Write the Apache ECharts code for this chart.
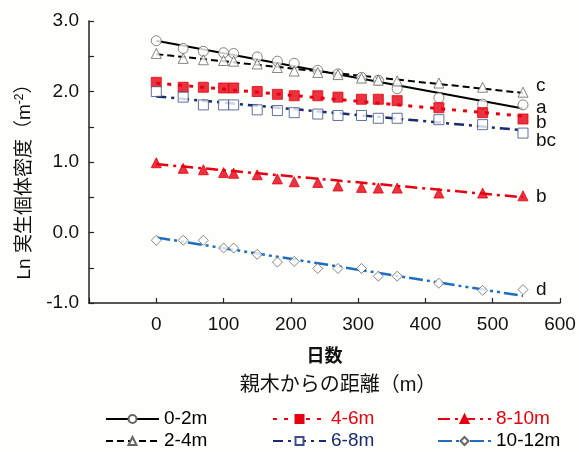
<!DOCTYPE html>
<html>
<head>
<meta charset="utf-8">
<script src="https://cdn.jsdelivr.net/npm/echarts@6/dist/echarts.min.js"></script>
<style>
  html, body { margin: 0; padding: 0; background: #fefefb; }
  #chart { width: 579px; height: 452px; }
</style>
</head>
<body>
<div id="chart"></div>
<script>
// 調査日（日数）
const days = [0, 40, 70, 100, 115, 150, 180, 205, 240, 270, 305, 330, 358, 420, 485, 545];

// 各距離クラスの Ln 実生個体密度
const d0_2 = [2.72, 2.61, 2.57, 2.55, 2.54, 2.49, 2.43, 2.40, 2.30, 2.25, 2.20, 2.16, 2.04, 1.91, 1.82, 1.81];
const d2_4 = [2.54, 2.47, 2.45, 2.44, 2.43, 2.39, 2.34, 2.29, 2.27, 2.24, 2.19, 2.16, 2.15, 2.12, 2.06, 1.99];
const d4_6 = [2.13, 2.06, 2.06, 2.05, 2.05, 2.00, 1.96, 1.94, 1.94, 1.92, 1.89, 1.89, 1.87, 1.77, 1.70, 1.61];
const d6_8 = [2.00, 1.92, 1.81, 1.81, 1.81, 1.74, 1.73, 1.70, 1.68, 1.66, 1.66, 1.62, 1.62, 1.60, 1.53, 1.41];
const d8_10 = [0.99, 0.91, 0.89, 0.85, 0.84, 0.82, 0.76, 0.72, 0.71, 0.66, 0.64, 0.63, 0.63, 0.56, 0.56, 0.52];
const d10_12 = [-0.11, -0.11, -0.11, -0.22, -0.22, -0.31, -0.42, -0.41, -0.51, -0.51, -0.51, -0.62, -0.62, -0.72, -0.82, -0.81];

// 回帰直線（始点・終点）
const fitX = [0, 545];
const fit0_2 = [2.72, 1.76];
const fit2_4 = [2.53, 1.98];
const fit4_6 = [2.12, 1.65];
const fit6_8 = [1.93, 1.45];
const fit8_10 = [0.97, 0.50];
const fit10_12 = [-0.07, -0.90];

// 多重比較の記号
const letters = ['a', 'c', 'b', 'bc', 'b', 'd'];
const names = ['0-2m', '2-4m', '4-6m', '6-8m', '8-10m', '10-12m'];

const xTicks = [0, 100, 200, 300, 400, 500, 600];

const RED = '#e60012';
const NAVY = '#1c2a6e';
const BLUE = '#1f6fc0';
const FONT = "'Liberation Sans', 'Noto Sans CJK JP', sans-serif";

const groups = [
  { vals: d0_2, fit: fit0_2, symbol: 'circle', fill: '#fff', border: '#666', line: '#000', type: 'solid', width: 2, dy: -1, text: '#000' },
  { vals: d2_4, fit: fit2_4, symbol: 'triangle', fill: '#fff', border: '#666', line: '#000', type: [7, 4], width: 2, dy: -7, text: '#000' },
  { vals: d4_6, fit: fit4_6, symbol: 'rect', fill: RED, border: RED, line: RED, type: [4, 7], width: 3, dy: 7, text: RED },
  { vals: d6_8, fit: fit6_8, symbol: 'rect', fill: '#fff', border: '#3c4f8a', line: NAVY, type: [10, 5, 3, 5], width: 2.5, dy: 10, text: NAVY },
  { vals: d8_10, fit: fit8_10, symbol: 'triangle', fill: RED, border: RED, line: RED, type: [12, 5, 3, 5], width: 2.5, dy: 0, text: RED },
  { vals: d10_12, fit: fit10_12, symbol: 'diamond', fill: '#fff', border: '#666', line: BLUE, type: [14, 4, 3, 4, 3, 4], width: 2.5, dy: -6, text: '#000' }
];

const series = [];
groups.forEach(function (g, i) {
  // 回帰直線
  series.push({
    name: names[i],
    type: 'line',
    data: fitX.map(function (x, k) { return [x, g.fit[k]]; }),
    symbol: g.symbol,
    showSymbol: false,
    symbolSize: 9,
    itemStyle: { color: g.fill, borderColor: g.border, borderWidth: 1 },
    lineStyle: { color: g.line, type: g.type, width: g.width },
    endLabel: {
      show: true,
      formatter: letters[i],
      distance: 13,
      offset: [0, g.dy],
      color: '#111',
      fontSize: 19,
      fontFamily: FONT
    },
    z: 2,
    silent: true
  });
  // 観測値
  series.push({
    name: 'p' + names[i],
    type: 'scatter',
    data: days.map(function (d, k) { return [d, g.vals[k]]; }),
    symbol: g.symbol,
    symbolSize: 10,
    itemStyle: { color: g.fill, borderColor: g.border, borderWidth: 1 },
    z: 3,
    silent: true
  });
});

function legendCol(left, a, b) {
  return {
    orient: 'vertical',
    left: left,
    top: 409,
    padding: 0,
    itemWidth: 53,
    itemHeight: 10,
    itemGap: 2,
    selectedMode: false,
    textStyle: { fontSize: 19, lineHeight: 20, fontFamily: FONT },
    data: [a, b].map(function (i) {
      return { name: names[i], textStyle: { color: groups[i].text } };
    })
  };
}

const chart = echarts.init(document.getElementById('chart'));
chart.setOption({
  backgroundColor: '#fefefb',
  animation: false,
  grid: { left: 89, right: 19, top: 21, bottom: 149 },
  xAxis: {
    type: 'value',
    min: -100,
    max: 600,
    interval: 100,
    name: '日数',
    nameLocation: 'middle',
    nameGap: 45,
    nameTextStyle: { fontSize: 18, fontWeight: 'bold', color: '#111', fontFamily: FONT },
    axisLine: { onZero: false, lineStyle: { color: '#222', width: 1.5 } },
    axisTick: { inside: true, length: 5, lineStyle: { color: '#222', width: 1.2 } },
    axisLabel: {
      color: '#111', fontSize: 19, margin: 12, fontFamily: FONT,
      formatter: function (v) { return xTicks.indexOf(v) >= 0 ? String(v) : ''; }
    },
    splitLine: { show: false }
  },
  yAxis: {
    type: 'value',
    min: -1,
    max: 3,
    interval: 0.5,
    name: '{n|Ln 実生個体密度（m}{s|-2}{n|）}',
    nameLocation: 'middle',
    nameGap: 53,
    nameTextStyle: {
      fontSize: 19,
      fontFamily: FONT,
      color: '#111',
      padding: [0, 30, 0, 0],
      rich: {
        n: { fontSize: 19, color: '#111', fontFamily: FONT, lineHeight: 22 },
        s: { fontSize: 12, color: '#111', fontFamily: FONT, verticalAlign: 'top', lineHeight: 12 }
      }
    },
    axisLine: { onZero: false, lineStyle: { color: '#222', width: 1.5 } },
    axisTick: { inside: true, length: 5, lineStyle: { color: '#222', width: 1.2 } },
    axisLabel: {
      color: '#111', fontSize: 19, margin: 10, fontFamily: FONT,
      formatter: function (v) { return Math.abs(v % 1) < 1e-9 ? v.toFixed(1) : ''; }
    },
    splitLine: { show: false }
  },
  legend: [legendCol(105, 0, 1), legendCol(272, 2, 3), legendCol(437, 4, 5)],
  graphic: [{
    type: 'text',
    x: 338,
    y: 385,
    style: {
      text: '親木からの距離（m）',
      fontSize: 20,
      fontFamily: FONT,
      fill: '#111',
      textAlign: 'center',
      textVerticalAlign: 'middle'
    }
  }],
  series: series
});
</script>
</body>
</html>
